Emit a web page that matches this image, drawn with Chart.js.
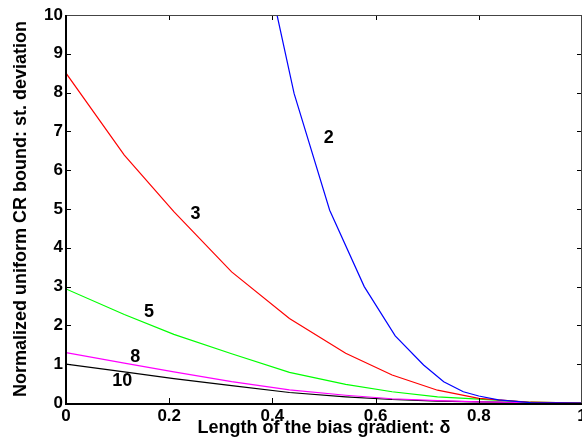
<!DOCTYPE html>
<html>
<head>
<meta charset="utf-8">
<script src="https://cdn.jsdelivr.net/npm/chart.js@4/dist/chart.umd.min.js"></script>
<style>
  html, body { margin: 0; padding: 0; background: #fff; overflow: hidden; }
  #wrap { width: 600px; height: 444px; }
</style>
</head>
<body>
<div id="wrap"><canvas id="c" width="600" height="444"></canvas></div>
<script>
// --- Daten ---
const xs = [0, 0.113, 0.209, 0.321, 0.433, 0.542, 0.632, 0.72, 0.8, 0.9, 1.0];
const red3 = [8.5, 6.39, 4.93, 3.38, 2.18, 1.28, 0.72, 0.33, 0.12, 0.02, 0];
const green5 = [2.94, 2.28, 1.77, 1.27, 0.79, 0.48, 0.29, 0.16, 0.10, 0.02, 0];
const magenta8 = [1.30, 1.03, 0.80, 0.55, 0.34, 0.20, 0.11, 0.06, 0.03, 0.01, 0];
const black10 = [1.0, 0.80, 0.63, 0.45, 0.27, 0.16, 0.09, 0.05, 0.03, 0.01, 0];

const xsBlue = [0.409, 0.442, 0.511, 0.578, 0.638, 0.693, 0.732, 0.770, 0.8, 0.838, 0.9, 1.0];
const blue2 = [10, 7.98, 4.97, 3.0, 1.73, 0.98, 0.55, 0.29, 0.18, 0.08, 0.01, 0];

// Kurvenbeschriftungen
const curveLabels = ['2', '3', '5', '8', '10'];
const labelX = [0.509, 0.251, 0.161, 0.134, 0.109];
const labelY = [6.83, 4.87, 2.35, 1.18, 0.57];

const xTicks = [0, 0.2, 0.4, 0.6, 0.8, 1];
const yTicks = [0, 1, 2, 3, 4, 5, 6, 7, 8, 9, 10];

const FONT = 'Liberation Sans, Arial, Helvetica, sans-serif';
const pts = (x, y) => x.map((v, i) => ({x: v, y: y[i]}));

// --- Plugin: Rahmen, Ticks nach innen, Kurvenlabels ---
const matlabAxes = {
  id: 'matlabAxes',
  afterDatasetsDraw(chart) {
    const {ctx, chartArea: a, scales: {x, y}} = chart;
    ctx.save();

    // labels an den Kurven
    ctx.font = `bold 18px ${FONT}`;
    ctx.fillStyle = '#000';
    ctx.textAlign = 'center';
    ctx.textBaseline = 'middle';
    curveLabels.forEach((t, i) => {
      ctx.fillText(t, x.getPixelForValue(labelX[i]), y.getPixelForValue(labelY[i]));
    });

    // tick marks (innen)
    ctx.strokeStyle = '#000';
    ctx.lineWidth = 1;
    const tl = 5;
    ctx.beginPath();
    x.ticks.forEach(t => {
      const px = Math.round(x.getPixelForValue(t.value)) + 0.5;
      ctx.moveTo(px, a.bottom); ctx.lineTo(px, a.bottom - tl);
      ctx.moveTo(px, a.top); ctx.lineTo(px, a.top + tl);
    });
    y.ticks.forEach(t => {
      const py = Math.round(y.getPixelForValue(t.value)) + 0.5;
      ctx.moveTo(a.left, py); ctx.lineTo(a.left + tl, py);
      ctx.moveTo(a.right, py); ctx.lineTo(a.right - tl, py);
    });
    ctx.stroke();

    // Rahmen
    ctx.strokeStyle = '#444';
    ctx.lineWidth = 1;
    ctx.beginPath();
    ctx.moveTo(a.left, a.top + 0.5); ctx.lineTo(a.right, a.top + 0.5);
    ctx.moveTo(a.right - 0.5, a.top); ctx.lineTo(a.right - 0.5, a.bottom);
    ctx.stroke();

    ctx.strokeStyle = '#000';
    ctx.lineWidth = 2;
    ctx.beginPath();
    ctx.moveTo(a.left, a.top); ctx.lineTo(a.left, a.bottom + 1);
    ctx.lineTo(a.right, a.bottom + 1);
    ctx.stroke();
    ctx.restore();
  }
};

const line = (data, color) => ({
  data, borderColor: color, borderWidth: 1.2, pointRadius: 0, tension: 0, fill: false
});

new Chart(document.getElementById('c'), {
  type: 'line',
  data: {
    datasets: [
      line(pts(xsBlue, blue2), '#0000ff'),
      line(pts(xs, red3), '#ff0000'),
      line(pts(xs, green5), '#00ff00'),
      line(pts(xs, magenta8), '#ff00ff'),
      line(pts(xs, black10), '#000000')
    ]
  },
  options: {
    responsive: false,
    animation: false,
    layout: { padding: { top: 15, right: 18, left: 0, bottom: 0 } },
    plugins: { legend: { display: false }, tooltip: { enabled: false } },
    scales: {
      x: {
        type: 'linear', min: 0, max: 1,
        afterFit(s) { s.height = 41; },
        afterBuildTicks(s) { s.ticks = xTicks.map(v => ({value: v})); },
        grid: { display: false, drawTicks: false },
        border: { display: false },
        ticks: {
          padding: 3, color: '#000',
          font: { family: FONT, size: 17, weight: 'bold' },
          callback: v => String(v)
        },
        title: {
          display: true, text: 'Length of the bias gradient: δ', color: '#000',
          font: { family: FONT, size: 18, weight: 'bold' },
          padding: { top: 0, bottom: 5 }
        }
      },
      y: {
        min: 0, max: 10,
        afterFit(s) { s.width = 66; },
        afterBuildTicks(s) { s.ticks = yTicks.map(v => ({value: v})); },
        grid: { display: false, drawTicks: false },
        border: { display: false },
        ticks: {
          padding: 3, color: '#000',
          font: { family: FONT, size: 17, weight: 'bold' }
        },
        title: {
          display: true, text: 'Normalized uniform CR bound: st. deviation', color: '#000',
          font: { family: FONT, size: 18, weight: 'bold' },
          padding: { top: 10, bottom: 0 }
        }
      }
    }
  },
  plugins: [matlabAxes]
});
</script>
</body>
</html>
